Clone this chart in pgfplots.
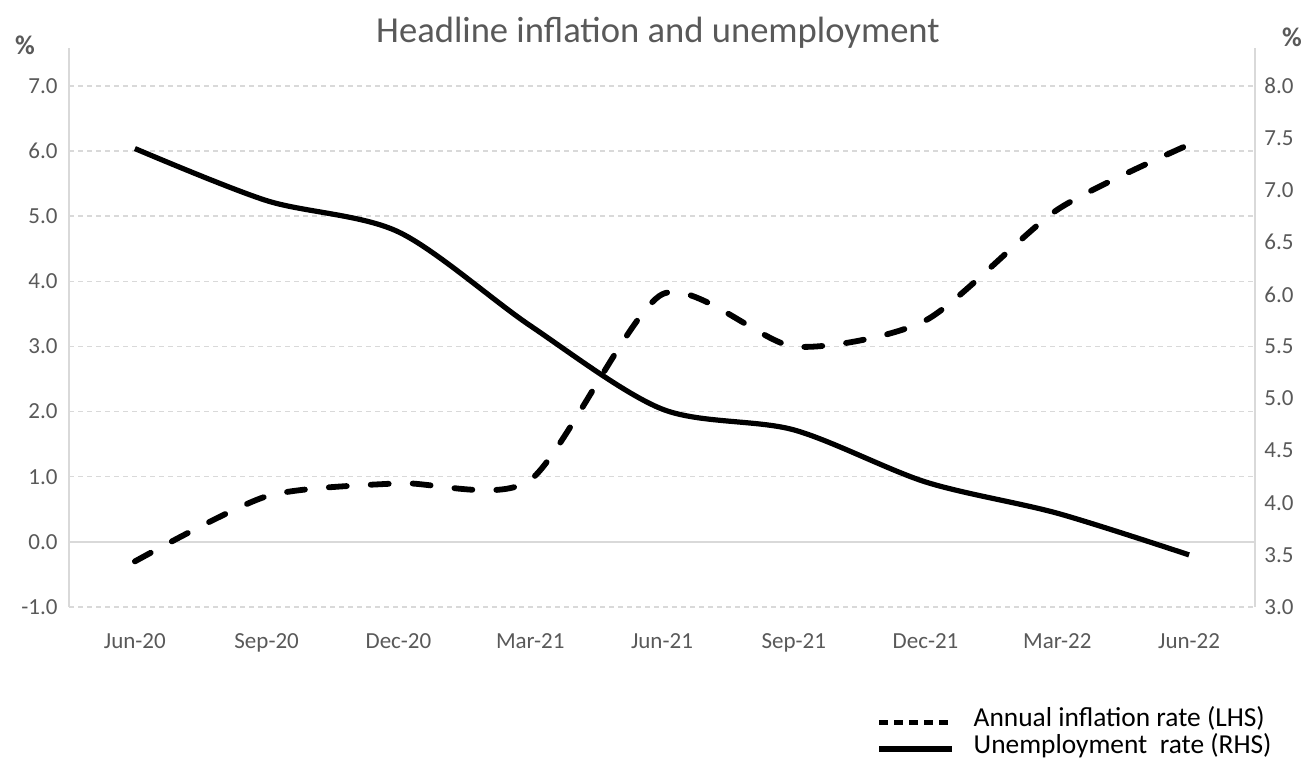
\documentclass[border=0pt]{standalone}
\usepackage{fontspec}
\setmainfont{Carlito}
\usepackage{pgfplots}
\pgfplotsset{compat=1.18}
\definecolor{tickgray}{HTML}{595959}
\definecolor{gridgray}{HTML}{D9D9D9}
\begin{document}
\begin{tikzpicture}[x=1pt,y=1pt]
\useasboundingbox (0,0) rectangle (657.5,381.5);
\pgfplotsset{
  base/.style={
    at={(34.5pt,78pt)}, anchor=south west, scale only axis,
    width=593pt, height=279.5pt,
    xmin=-0.5, xmax=8.5,
    major tick length=0pt,
    axis line style={draw=none},
    tick label style={font=\fontsize{11.5}{13.8}\selectfont, text=tickgray},
    /pgf/number format/assume math mode=true,
    y tick label style={/pgf/number format/fixed, /pgf/number format/fixed zerofill, /pgf/number format/precision=1},
    clip=false,
  }
}
\begin{axis}[base,
  ymin=-1, ymax=7.583,
  xtick={0,1,2,3,4,5,6,7,8},
  xticklabels={Jun-20,Sep-20,Dec-20,Mar-21,Jun-21,Sep-21,Dec-21,Mar-22,Jun-22},
  xticklabel style={yshift=-10pt},
  ytick={-1,0,1,2,3,4,5,6,7},
  yticklabel style={xshift=-2.2pt},
  ymajorgrids,
  grid style={gridgray, dash pattern=on 2.5pt off 2pt, line width=0.75pt},
]
\draw[gridgray, line width=1pt] (axis cs:-0.5,0) -- (axis cs:8.5,0);
\draw[gridgray, line width=1pt] (rel axis cs:0,0) -- (rel axis cs:0,1);
\draw[gridgray, line width=1pt] (rel axis cs:1,0) -- (rel axis cs:1,1);
\addplot[black, line width=2.9pt, smooth, tension=0.42, line cap=round, dash pattern=on 9pt off 12pt]
  coordinates {(0,-0.3) (1,0.7) (2,0.9) (3,0.95) (4,3.8) (5,3.0) (6,3.4) (7,5.1) (8,6.1)};
\end{axis}
\begin{axis}[base,
  ymin=3, ymax=8.365,
  hide x axis,
  axis y line*=right,
  ytick={3,3.5,4,4.5,5,5.5,6,6.5,7,7.5,8},
  yticklabel style={xshift=1.2pt},
  legend image code/.code={\draw[#1] (0pt,0pt) -- (36.5pt,0pt);},
  legend style={at={(0.6805,-0.181)}, anchor=north west, draw=none, fill=none,
    font=\fontsize{13.7}{16}\selectfont, inner sep=0pt, row sep=0pt,
    nodes={inner sep=0pt, text height=9pt, text depth=4.5pt},
    /tikz/every even column/.append style={column sep=0pt}},
  legend cell align=left,
]
\addlegendimage{black, line width=2.5pt, dash pattern=on 4.5pt off 3pt}
\addlegendentry{\hspace{9.5pt}Annual inflation rate (LHS)}
\addplot[black, line width=2.6pt, smooth, tension=0.5]
  coordinates {(0,7.4) (1,6.9) (2,6.6) (3,5.7) (4,4.9) (5,4.7) (6,4.2) (7,3.9) (8,3.5)};
\addlegendentry{\hspace{9.5pt}Unemployment\ \ rate (RHS)}
\end{axis}
\node[font=\bfseries\fontsize{13.5}{15}\selectfont, text=tickgray] at (12.5,359) {\%};
\node[font=\bfseries\fontsize{13.5}{15}\selectfont, text=tickgray] at (646,363) {\%};
\node[font=\fontsize{18.3}{22}\selectfont, text=tickgray] at (329,365) {Headline inflation and unemployment};
\end{tikzpicture}
\end{document}
